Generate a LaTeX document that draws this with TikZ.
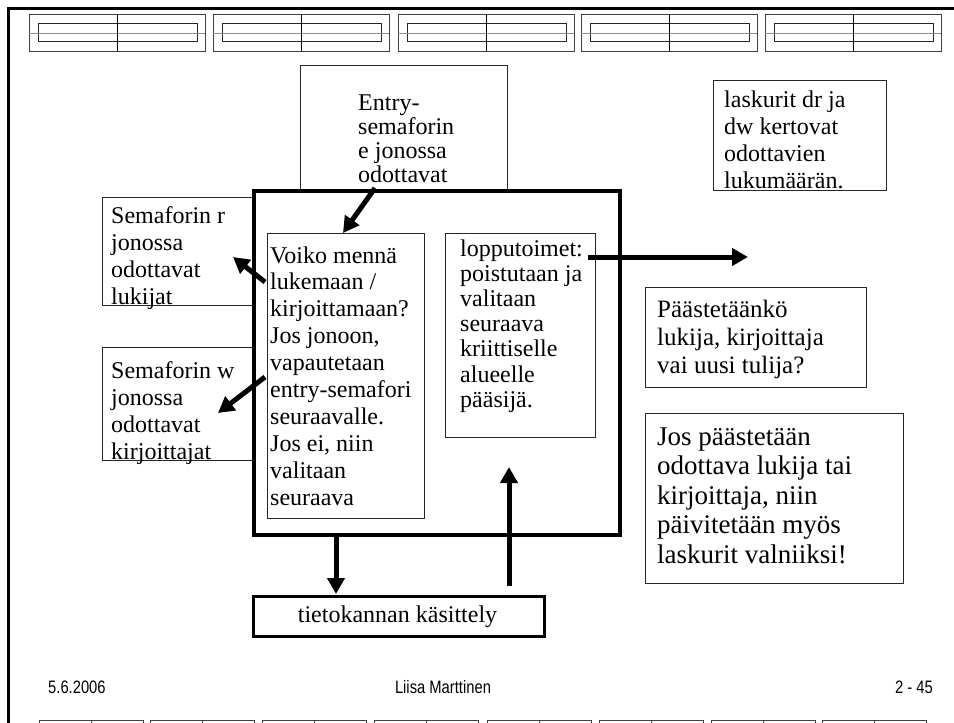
\documentclass[tikz,border=0pt]{standalone}
\usepackage{fontspec}
\setmainfont{Liberation Serif}
\newfontfamily\footfont[FakeStretch=0.82]{Liberation Sans}
\usetikzlibrary{arrows.meta}
\newcommand\txtlines[3]{\parbox[t]{400pt}{\fontsize{#1}{#2}\selectfont\raggedright #3}}
\begin{document}
\begin{tikzpicture}[x=1pt,y=-1pt,
  box/.style={draw=black!85, line width=1pt, inner sep=0pt, anchor=north west},
  mainbox/.style={draw=black, line width=3.5pt, inner sep=0pt, anchor=north west},
  dbbox/.style={draw=black, line width=2.5pt, inner sep=0pt, anchor=north west},
  txt/.style={inner sep=0pt, anchor=base west},
  arr/.style={line width=5pt, -{Triangle[width=17pt,length=16pt]}},
  strip/.style={draw=black!75, line width=0.8pt},
  foot/.style={inner sep=0pt, font=\footfont\fontsize{18}{20}\selectfont}]
\useasboundingbox (0,0) rectangle (954,723);
% slide frame
\draw[line width=3pt] (8.5,723) -- (8.5,8) -- (954,8);
% top film strip
\foreach \x in {29,213,398,581,765} {
  \draw[strip] (\x,14) rectangle ++(176,37);
  \draw[draw=black!85, line width=0.8pt] (\x+9,23) rectangle (\x+168,41);
  \draw[draw=black!45, line width=0.8pt] (\x,33) -- ++(176,0);
  \draw[line width=1pt] (\x+88,14) -- (\x+88,51);
}
% bottom film strip
\foreach \x in {39,150,262,374,487,599,711,822} {
  \draw[strip] (\x,724) -- (\x,720) -- (\x+104,720) -- (\x+104,724);
  \draw[strip] (\x+52,720) -- (\x+52,724);
}
% boxes
\node[box, minimum width=207, minimum height=124] (entry) at (300,65) {};
\node[box, minimum width=150, minimum height=108] (semr) at (102,197) {};
\node[box, minimum width=150, minimum height=113] (semw) at (102,347) {};
\node[mainbox, minimum width=366, minimum height=344] (main) at (252,189) {};
\node[box, minimum width=157, minimum height=285] (voiko) at (267,233) {};
\node[box, minimum width=150, minimum height=204] (loppu) at (445,233) {};
\node[box, minimum width=173, minimum height=110] (lask) at (713,80) {};
\node[box, minimum width=221, minimum height=100] (paas) at (645,287) {};
\node[box, minimum width=258, minimum height=170] (jos) at (645,413) {};
\node[dbbox, minimum width=291, minimum height=40] (db) at (252,595) {};
% texts
\node[txt] (entryT) at (358,110) {\txtlines{24}{24}{Entry-\\semaforin\\e jonossa\\odottavat}};
\node[txt] (semrT) at (111,223) {\txtlines{24}{27}{Semaforin r\\jonossa\\odottavat\\lukijat}};
\node[txt] (semwT) at (111,378) {\txtlines{24}{27}{Semaforin w\\jonossa\\odottavat\\kirjoittajat}};
\node[txt] (voikoT) at (270,263) {\txtlines{24}{26.9}{Voiko mennä\\lukemaan /\\kirjoittamaan?\\Jos jonoon,\\vapautetaan\\entry-semafori\\seuraavalle.\\Jos ei, niin\\valitaan\\seuraava}};
\node[txt] (loppuT) at (460,256) {\txtlines{24}{25.2}{lopputoimet:\\poistutaan ja\\valitaan\\seuraava\\kriittiselle\\alueelle\\pääsijä.}};
\node[txt] (laskT) at (724,107) {\txtlines{24}{27}{laskurit dr ja\\dw kertovat\\odottavien\\lukumäärän.}};
\node[txt] (paasT) at (657,317) {\txtlines{25}{28}{Päästetäänkö\\lukija, kirjoittaja\\vai uusi tulija?}};
\node[txt] (josT) at (657,445) {\txtlines{27}{29.5}{Jos päästetään\\odottava lukija tai\\kirjoittaja, niin\\päivitetään myös\\laskurit valniiksi!}};
\node[inner sep=0pt, anchor=base, font=\fontsize{24}{26}\selectfont] (dbT) at (397.5,622) {tietokannan käsittely};
% arrow end points
\coordinate (e1) at (375,188);  \coordinate (e2) at (343,233);
\coordinate (r1) at (265,282);  \coordinate (r2) at (233,257);
\coordinate (w1) at (265,377);  \coordinate (w2) at (218,413);
\coordinate (o1) at (588,257);  \coordinate (o2) at (748,257);
\coordinate (d1) at (336,533);  \coordinate (d2) at (336,594);
\coordinate (u1) at (509,586);  \coordinate (u2) at (509,467);
\draw[arr] (e1) -- (e2);
\draw[arr] (r1) -- (r2);
\draw[arr] (w1) -- (w2);
\draw[arr] (o1) -- (o2);
\draw[arr] (d1) -- (d2);
\draw[arr] (u1) -- (u2);
% footer
\node[foot, anchor=base west] (date) at (48,693) {5.6.2006};
\node[foot, anchor=base] (author) at (443,693) {Liisa Marttinen};
\node[foot, anchor=base east] (page) at (933,693) {2 - 45};
\end{tikzpicture}
\end{document}
